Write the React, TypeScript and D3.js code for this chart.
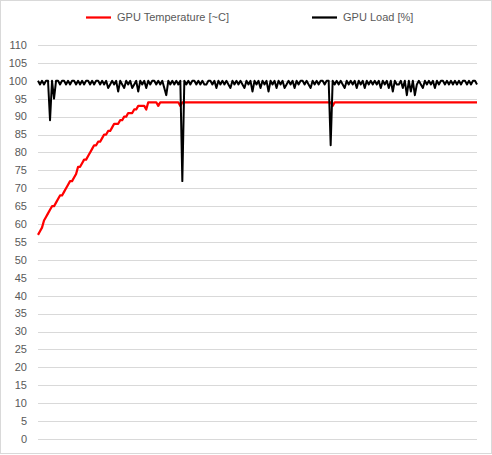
import React, { useEffect, useRef } from 'react';
import * as d3 from 'd3';

// y axis ticks
const yTicks = [0, 5, 10, 15, 20, 25, 30, 35, 40, 45, 50, 55, 60, 65, 70, 75, 80, 85, 90, 95, 100, 105, 110];

// GPU temperature, one value per sample
const gpuTemp = [
  57, 58, 59, 61, 62, 63, 64, 65, 65, 66,
  67, 68, 68, 69, 70, 71, 72, 72, 73, 74,
  76, 76, 77, 78, 78, 79, 80, 81, 82, 82,
  83, 83, 84, 85, 85, 86, 86, 87, 88, 88,
  88, 89, 89, 90, 90, 91, 91, 91, 92, 92,
  93, 93, 93, 93, 92, 94, 94, 94, 94, 94,
  93, 94, 94, 94, 94, 94, 94, 94, 94, 94,
  94, 93, 94, 94, 94, 94, 94, 94, 94, 94,
  94, 94, 94, 94, 94, 94, 94, 94, 94, 94,
  94, 94, 94, 94, 94, 94, 94, 94, 94, 94,
  94, 94, 94, 94, 94, 94, 94, 94, 94, 94,
  94, 94, 94, 94, 94, 94, 94, 94, 94, 94,
  94, 94, 94, 94, 94, 94, 94, 94, 94, 94,
  94, 94, 94, 94, 94, 94, 94, 94, 94, 94,
  94, 94, 94, 94, 94, 94, 94, 93, 94, 94,
  94, 94, 94, 94, 94, 94, 94, 94, 94, 94,
  94, 94, 94, 94, 94, 94, 94, 94, 94, 94,
  94, 94, 94, 94, 94, 94, 94, 94, 94, 94,
  94, 94, 94, 94, 94, 94, 94, 94, 94, 94,
  94, 94, 94, 94, 94, 94, 94, 94, 94, 94,
  94, 94, 94, 94, 94, 94, 94, 94, 94, 94,
  94, 94, 94, 94, 94, 94, 94, 94, 94, 94
];

// GPU load in percent, same samples
const gpuLoad = [
  100, 99, 100, 99, 100, 100, 89, 100, 95, 100,
  100, 99, 100, 100, 99, 100, 99, 100, 100, 99,
  100, 99, 100, 99, 100, 100, 99, 100, 99, 100,
  100, 99, 100, 99, 100, 98, 99, 100, 99, 100,
  97, 100, 99, 98, 100, 99, 100, 98, 99, 100,
  97, 100, 99, 100, 98, 100, 99, 100, 100, 99,
  100, 99, 100, 98, 96, 100, 99, 100, 99, 100,
  99, 100, 72, 100, 99, 100, 99, 100, 100, 99,
  100, 99, 100, 99, 99, 100, 100, 99, 100, 98,
  100, 99, 100, 99, 100, 99, 98, 100, 99, 100,
  99, 100, 99, 98, 100, 99, 100, 97, 100, 99,
  100, 98, 100, 99, 100, 97, 100, 99, 100, 98,
  100, 99, 100, 98, 99, 100, 99, 100, 98, 100,
  99, 100, 100, 99, 100, 99, 98, 100, 99, 100,
  99, 100, 100, 99, 100, 100, 82, 100, 99, 100,
  99, 100, 99, 98, 100, 99, 100, 99, 100, 98,
  100, 99, 100, 98, 100, 99, 100, 99, 100, 99,
  100, 98, 100, 99, 100, 98, 100, 97, 100, 99,
  99, 100, 98, 100, 96, 100, 97, 100, 96, 99,
  100, 99, 98, 100, 99, 100, 99, 100, 98, 100,
  99, 100, 100, 99, 100, 99, 100, 99, 100, 99,
  100, 99, 100, 100, 99, 100, 99, 100, 100, 99
];

const seriesNames = ['GPU Temperature [~C]', 'GPU Load [%]'];
const seriesColors = ['#ff0000', '#000000'];

const App = () => {
  const box = useRef<HTMLDivElement>(null);

  useEffect(() => {
    const width = 492;
    const height = 455;
    d3.select(box.current).selectAll('*').remove();
    const svg = d3.select(box.current)
      .append('svg')
      .attr('width', width)
      .attr('height', height)
      .style('position', 'absolute')
      .style('left', 0)
      .style('top', 0)
      .style('font-family', '"Liberation Sans", Arial, sans-serif');

    // chart frame
    svg.append('rect')
      .attr('x', 0.5)
      .attr('y', 0.5)
      .attr('width', width - 1)
      .attr('height', height - 2)
      .attr('fill', '#fff')
      .attr('stroke', '#d9d9d9');

    const x = d3.scaleLinear().domain([0, gpuTemp.length - 1]).range([38, 477]);
    const y = d3.scaleLinear().domain([0, 110]).range([439, 45]);

    // grid + tick labels
    const grid = svg.append('g').attr('class', 'grid');
    yTicks.forEach(t => {
      grid.append('line')
        .attr('x1', 38)
        .attr('x2', 477)
        .attr('y1', Math.round(y(t)) + 0.5)
        .attr('y2', Math.round(y(t)) + 0.5)
        .attr('stroke', '#d9d9d9')
        .attr('stroke-width', 1);
      grid.append('text')
        .attr('x', 27)
        .attr('y', y(t))
        .attr('dy', '0.35em')
        .attr('text-anchor', 'end')
        .attr('font-size', 11)
        .attr('fill', '#595959')
        .text(t);
    });

    const line = d3.line<number>()
      .x((d, i) => x(i))
      .y(d => y(d));

    svg.append('path')
      .datum(gpuTemp)
      .attr('fill', 'none')
      .attr('stroke', seriesColors[0])
      .attr('stroke-width', 2.25)
      .attr('stroke-linejoin', 'round')
      .attr('d', line);

    svg.append('path')
      .datum(gpuLoad)
      .attr('fill', 'none')
      .attr('stroke', seriesColors[1])
      .attr('stroke-width', 2)
      .attr('stroke-linejoin', 'round')
      .attr('d', line);

    // legend
    const legendX = [86, 312];
    const legend = svg.append('g').attr('class', 'legend');
    seriesNames.forEach((name, i) => {
      legend.append('line')
        .attr('x1', legendX[i])
        .attr('x2', legendX[i] + 25)
        .attr('y1', 17.5)
        .attr('y2', 17.5)
        .attr('stroke', seriesColors[i])
        .attr('stroke-width', 2.25);
      legend.append('text')
        .attr('x', legendX[i] + 31)
        .attr('y', 17.5)
        .attr('dy', '0.35em')
        .attr('font-size', 11)
        .attr('fill', '#595959')
        .text(name);
    });
  }, []);

  return <div ref={box} />;
};

export default App;
